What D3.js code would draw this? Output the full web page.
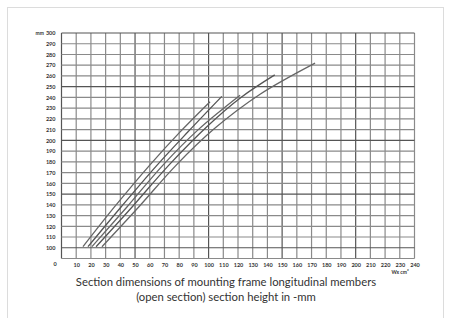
<!DOCTYPE html>
<html>
<head>
<meta charset="utf-8">
<script src="https://cdn.jsdelivr.net/npm/d3@7"></script>
<style>
  body { margin: 0; background: #fff; }
  svg text { font-family: Lato, "Open Sans", sans-serif; }
</style>
</head>
<body>
<svg id="chart" width="451" height="318"></svg>
<script>
// axis ticks
var xTicks = d3.range(10, 250, 10);       // 10 .. 240 (Wx cm3)
var yTicks = d3.range(100, 310, 10);      // 100 .. 300 (mm)
var yGrid = d3.range(90, 310, 10);

// curves: [Wx, height]
var lineE = [[14.6,101],[36,138],[60,177],[80,207],[101,236]];
var lineD = [[18,101],[40.5,138],[65,177],[86,208],[109,241]];
var lineC = [[20.7,101],[44.5,138],[69,177],[93,210],[121.4,242]];
var lineB = [[23.5,101],[48,138],[73,177],[99,213],[122,240],[145,261]];
var lineA = [[27.5,101],[52.5,138],[78,177],[104,211],[135,243],[172.4,272]];
var curves = [lineE, lineD, lineC, lineB, lineA];

var svg = d3.select("#chart");
var plotL = 61.5, plotR = 414.5, plotT = 33, plotB = 258.5;

var x = d3.scaleLinear().domain([0, 240]).range([plotL, plotR]);
var y = d3.scaleLinear().domain([90, 300]).range([plotB, plotT]);

// outer frame
svg.append("rect")
  .attr("x", 7.5).attr("y", 7.5)
  .attr("width", 436).attr("height", 320)
  .attr("fill", "none").attr("stroke", "#dcdcdc");

// grid
var grid = svg.append("g");
grid.selectAll("line.v")
  .data(d3.range(0, 250, 10))
  .enter().append("line")
  .attr("x1", function(d) { return x(d); })
  .attr("x2", function(d) { return x(d); })
  .attr("y1", plotT).attr("y2", plotB)
  .attr("stroke", function(d) { return d % 50 == 0 ? "#555" : "#8a8a8a"; })
  .attr("stroke-width", 1.2);
grid.selectAll("line.h")
  .data(yGrid)
  .enter().append("line")
  .attr("y1", function(d) { return y(d); })
  .attr("y2", function(d) { return y(d); })
  .attr("x1", plotL).attr("x2", plotR)
  .attr("stroke", function(d) { return d % 50 == 0 ? "#555" : "#8a8a8a"; })
  .attr("stroke-width", 1.2);

// axes (labels only)
var yAxis = d3.axisLeft(y).tickValues(yTicks).tickSize(0).tickPadding(6);
var gy = svg.append("g").attr("transform", "translate(" + plotL + ",0)").call(yAxis);
gy.select(".domain").remove();
gy.selectAll("text").attr("font-size", 5.5).attr("font-weight", "bold").attr("fill", "#333");

var xAxis = d3.axisBottom(x).tickValues(xTicks).tickSize(0).tickPadding(5);
var gx = svg.append("g").attr("transform", "translate(0," + plotB + ")").call(xAxis);
gx.select(".domain").remove();
gx.selectAll("text").attr("font-size", 5.5).attr("font-weight", "bold").attr("fill", "#333");

svg.append("text").attr("x", 55).attr("y", 266)
  .attr("font-size", 5.5).attr("font-weight", "bold").attr("fill", "#333")
  .attr("text-anchor", "middle").text("0");
svg.append("text").attr("x", 44).attr("y", 35)
  .attr("font-size", 5).attr("font-weight", "bold").attr("fill", "#333")
  .attr("text-anchor", "end").text("mm");
svg.append("text").attr("x", 400).attr("y", 274)
  .attr("font-size", 5).attr("font-weight", "bold").attr("fill", "#333")
  .attr("text-anchor", "middle").text("Wx cm³");

// curves
var line = d3.line()
  .x(function(d) { return x(d[0]); })
  .y(function(d) { return y(d[1]); })
  .curve(d3.curveCatmullRom.alpha(0.5));

svg.selectAll("path.curve")
  .data(curves)
  .enter().append("path")
  .attr("class", "curve")
  .attr("d", line)
  .attr("fill", "none")
  .attr("stroke", function(d, i) { return i % 2 ? "#555" : "#666"; })
  .attr("stroke-width", 1.3);

// caption
var cap = svg.append("text").attr("text-anchor", "middle")
  .attr("font-size", 11.3).attr("fill", "#333");
cap.append("tspan").attr("x", 226).attr("y", 286)
  .text("Section dimensions of mounting frame longitudinal members");
cap.append("tspan").attr("x", 226).attr("y", 301)
  .text("(open section) section height in -mm");
</script>
</body>
</html>
